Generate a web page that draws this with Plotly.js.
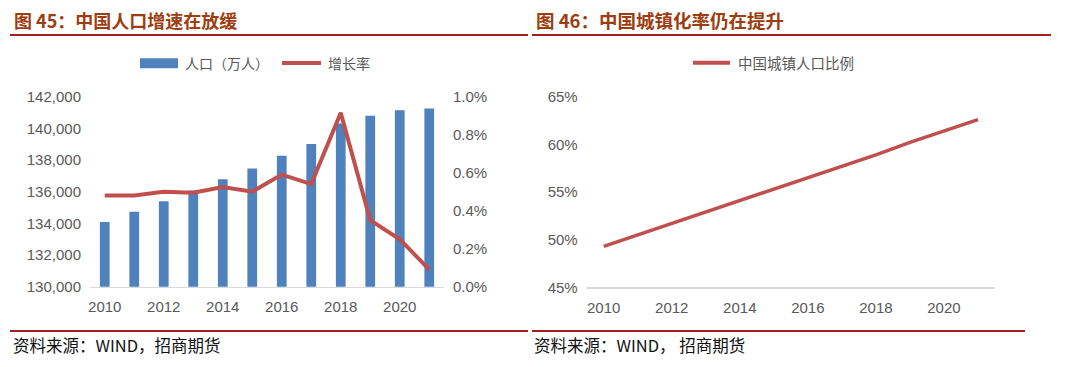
<!DOCTYPE html>
<html>
<head>
<meta charset="utf-8">
<script src="https://cdn.plot.ly/plotly-3.0.1.min.js"></script>
<style>
html,body{margin:0;padding:0;background:#fff;}
#chart{width:1080px;height:367px;}
</style>
</head>
<body>
<div id="chart"></div>
<script>
// ---- data ----
const years = [2010, 2011, 2012, 2013, 2014, 2015, 2016, 2017, 2018, 2019, 2020, 2021];
const population = [134091, 134735, 135404, 136072, 136782, 137462, 138271, 139008, 140300, 140800, 141150, 141260];
const growthRate = [0.48, 0.48, 0.50, 0.495, 0.525, 0.50, 0.59, 0.54, 0.915, 0.35, 0.25, 0.09];
const urbanRate = [49.3, 50.5, 51.7, 52.9, 54.1, 55.3, 56.5, 57.7, 58.9, 60.2, 61.4, 62.6];

const titleLeft = '图 45：中国人口增速在放缓';
const titleRight = '图 46：中国城镇化率仍在提升';
const legendPop = '人口（万人）';
const legendGrowth = '增长率';
const legendUrban = '中国城镇人口比例';
const sourceLeft = '资料来源：WIND，招商期货';
const sourceRight = '资料来源：WIND， 招商期货';

// ---- helpers (pixel -> paper) ----
const W = 1080, H = 367;
const px = x => x / W;
const py = y => 1 - y / H;

const BLUE = '#4f81bd';
const RED = '#c0504d';
const TITLE_C = '#9e3d10';
const RULE_C = '#a31f1f';
const TICK_C = '#595959';
const CJK = '"Noto Sans CJK SC", "Noto Sans", sans-serif';
const LAT = '"Liberation Sans", Arial, sans-serif';

const traces = [
  {type: 'bar', x: years, y: population, xaxis: 'x', yaxis: 'y',
   marker: {color: BLUE}, width: 0.33, showlegend: false, hoverinfo: 'x+y'},
  {type: 'scatter', mode: 'lines', x: years, y: growthRate, xaxis: 'x', yaxis: 'y2',
   line: {color: RED, width: 4}, showlegend: false},
  {type: 'scatter', mode: 'lines', x: years, y: urbanRate, xaxis: 'x3', yaxis: 'y3',
   line: {color: RED, width: 3.5}, showlegend: false}
];

const tickFont = {family: LAT, size: 15, color: TICK_C};

const layout = {
  width: W, height: H,
  margin: {l: 0, r: 0, t: 0, b: 0, pad: 0},
  paper_bgcolor: '#fff', plot_bgcolor: '#fff',
  showlegend: false,
  xaxis: {domain: [px(90), px(444)], range: [2009.5, 2021.5], tickmode: 'linear', tick0: 2010, dtick: 2,
          tickformat: 'd', showgrid: false, zeroline: false, showline: true, linecolor: '#d9d9d9', linewidth: 1.5,
          ticks: '', tickfont: tickFont, ticklabelstandoff: 6, anchor: 'y'},
  yaxis: {domain: [py(286.7), py(96.7)], range: [130000, 142000], dtick: 2000, tickformat: ',d',
          showgrid: false, zeroline: false, showline: false, ticks: '', tickfont: tickFont, ticklabelstandoff: 8, anchor: 'x'},
  yaxis2: {overlaying: 'y', side: 'right', range: [0, 1.0], dtick: 0.2, tickformat: '.1f', ticksuffix: '%',
           showgrid: false, zeroline: false, showline: false, ticks: '', tickfont: tickFont, ticklabelstandoff: 8, anchor: 'x'},
  xaxis3: {domain: [px(586.7), px(995)], range: [2009.5, 2021.5], tickmode: 'linear', tick0: 2010, dtick: 2,
           tickformat: 'd', showgrid: false, zeroline: false, showline: true, linecolor: '#d9d9d9', linewidth: 1.5,
           ticks: '', tickfont: tickFont, ticklabelstandoff: 6, anchor: 'y3'},
  yaxis3: {domain: [py(287.3), py(96.7)], range: [45, 65], dtick: 5, ticksuffix: '%',
           showgrid: false, zeroline: false, showline: false, ticks: '', tickfont: tickFont, ticklabelstandoff: 8, anchor: 'x3'},
  shapes: [
    // title rules
    {type: 'line', xref: 'paper', yref: 'paper', x0: px(10), x1: px(528), y0: py(35), y1: py(35), line: {color: RULE_C, width: 2.2}},
    {type: 'line', xref: 'paper', yref: 'paper', x0: px(532), x1: px(1051), y0: py(35), y1: py(35), line: {color: RULE_C, width: 2.2}},
    // source rules
    {type: 'line', xref: 'paper', yref: 'paper', x0: px(10), x1: px(528), y0: py(331), y1: py(331), line: {color: RULE_C, width: 2.2}},
    {type: 'line', xref: 'paper', yref: 'paper', x0: px(532), x1: px(1025), y0: py(331), y1: py(331), line: {color: RULE_C, width: 2.2}},
    // legend icons
    {type: 'rect', xref: 'paper', yref: 'paper', x0: px(140), x1: px(178), y0: py(68.3), y1: py(58.3), line: {width: 0}, fillcolor: BLUE},
    {type: 'line', xref: 'paper', yref: 'paper', x0: px(282), x1: px(321), y0: py(63), y1: py(63), line: {color: RED, width: 4}},
    {type: 'line', xref: 'paper', yref: 'paper', x0: px(693), x1: px(730), y0: py(62.7), y1: py(62.7), line: {color: RED, width: 4}}
  ],
  annotations: [
    {text: '<b>' + titleLeft + '</b>', xref: 'paper', yref: 'paper', x: px(12), y: py(20.5), xanchor: 'left', yanchor: 'middle',
     showarrow: false, font: {family: CJK, size: 18, color: TITLE_C}},
    {text: '<b>' + titleRight + '</b>', xref: 'paper', yref: 'paper', x: px(534), y: py(20.5), xanchor: 'left', yanchor: 'middle',
     showarrow: false, font: {family: CJK, size: 18.5, color: TITLE_C}},
    {text: legendPop, xref: 'paper', yref: 'paper', x: px(183), y: py(63), xanchor: 'left', yanchor: 'middle',
     showarrow: false, font: {family: CJK, size: 14, color: TICK_C}},
    {text: legendGrowth, xref: 'paper', yref: 'paper', x: px(326), y: py(63), xanchor: 'left', yanchor: 'middle',
     showarrow: false, font: {family: CJK, size: 14, color: TICK_C}},
    {text: legendUrban, xref: 'paper', yref: 'paper', x: px(736), y: py(63), xanchor: 'left', yanchor: 'middle',
     showarrow: false, font: {family: CJK, size: 14.5, color: TICK_C}},
    {text: sourceLeft, xref: 'paper', yref: 'paper', x: px(11), y: py(345), xanchor: 'left', yanchor: 'middle',
     showarrow: false, font: {family: CJK, size: 16.5, color: '#111'}},
    {text: sourceRight, xref: 'paper', yref: 'paper', x: px(532), y: py(345), xanchor: 'left', yanchor: 'middle',
     showarrow: false, font: {family: CJK, size: 16.5, color: '#111'}}
  ]
};

Plotly.newPlot('chart', traces, layout, {staticPlot: true, displayModeBar: false});
</script>
</body>
</html>
